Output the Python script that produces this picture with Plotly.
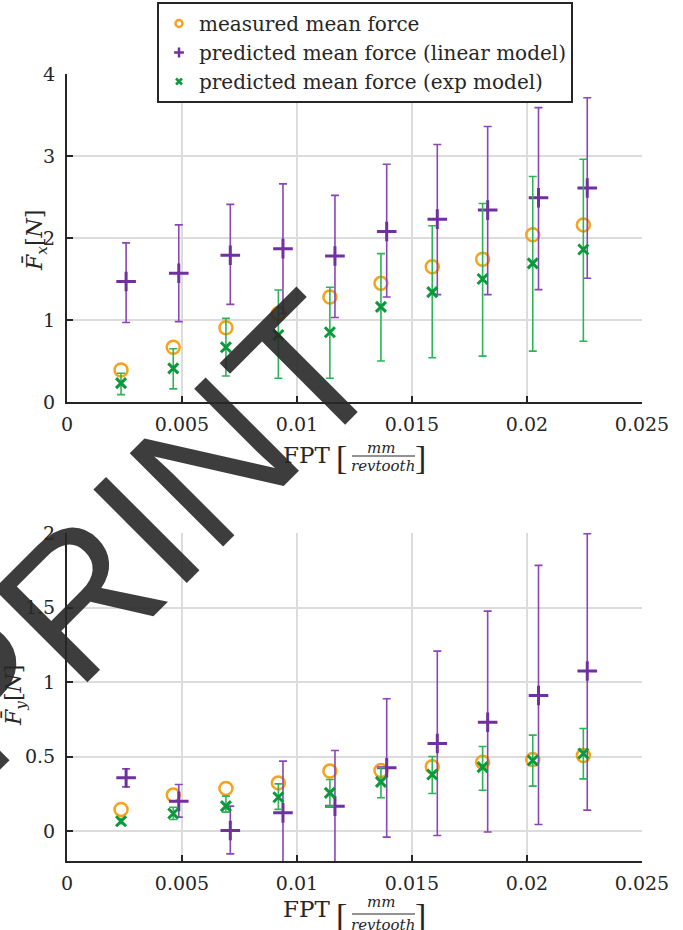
import plotly.graph_objects as go

# ---------------- data ----------------
fpt_meas = [0.00235, 0.00462, 0.00691, 0.00919, 0.01143, 0.01365, 0.01588, 0.01807, 0.02025, 0.02245]
fpt_lin = [0.00257, 0.00486, 0.00710, 0.00939, 0.01165, 0.01390, 0.01610, 0.01829, 0.02050, 0.02262]
fpt_exp = fpt_meas

Fx_meas = [0.39, 0.667, 0.906, 1.08, 1.28, 1.447, 1.65, 1.74, 2.04, 2.16]
Fx_lin = [1.47, 1.57, 1.79, 1.87, 1.78, 2.08, 2.23, 2.34, 2.49, 2.61]
Fx_lin_hi = [1.94, 2.16, 2.41, 2.66, 2.52, 2.90, 3.14, 3.36, 3.59, 3.71]
Fx_lin_lo = [0.97, 0.98, 1.19, 1.08, 1.03, 1.28, 1.31, 1.31, 1.37, 1.51]
Fx_exp = [0.23, 0.41, 0.667, 0.817, 0.85, 1.16, 1.34, 1.50, 1.69, 1.86]
Fx_exp_hi = [0.35, 0.65, 1.02, 1.366, 1.40, 1.81, 2.15, 2.42, 2.75, 2.96]
Fx_exp_lo = [0.09, 0.16, 0.317, 0.289, 0.29, 0.50, 0.54, 0.56, 0.62, 0.74]

Fy_meas = [0.146, 0.242, 0.287, 0.324, 0.403, 0.407, 0.432, 0.463, 0.481, 0.508]
Fy_lin = [0.358, 0.20, 0.005, 0.123, 0.168, 0.425, 0.588, 0.731, 0.91, 1.074]
Fy_lin_hi = [0.418, 0.313, 0.168, 0.47, 0.541, 0.888, 1.208, 1.476, 1.783, 1.995]
Fy_lin_lo = [0.297, 0.094, -0.152, -0.224, -0.205, -0.04, -0.029, -0.005, 0.045, 0.141]
Fy_exp = [0.067, 0.119, 0.168, 0.228, 0.257, 0.331, 0.38, 0.43, 0.474, 0.521]
Fy_exp_hi = [0.085, 0.161, 0.235, 0.317, 0.347, 0.425, 0.501, 0.568, 0.644, 0.689]
Fy_exp_lo = [0.05, 0.078, 0.128, 0.146, 0.168, 0.224, 0.253, 0.275, 0.302, 0.351]

x_ticks = [0, 0.005, 0.01, 0.015, 0.02, 0.025]
x_ticklabels = ["0", "0.005", "0.01", "0.015", "0.02", "0.025"]
yx_ticks = [0, 1, 2, 3, 4]
yx_ticklabels = ["0", "1", "2", "3", "4"]
yy_ticks = [0, 0.5, 1, 1.5, 2]
yy_ticklabels = ["0", "0.5", "1", "1.5", "2"]

legend_names = ["measured mean force",
                "predicted mean force (linear model)",
                "predicted mean force (exp model)"]

# ---------------- styles ----------------
ORANGE = "#F7A21B"
PURPLE = "#7030A0"
PURPLE_BAR = "#8A45B8"
GREEN = "#0A9A3C"
GREEN_BAR = "#2DB456"
SERIF = "DejaVu Serif"
AXCOL = "#262626"
GRID = "#dcdcdc"


def plus(hi, v):
    return [h - x for h, x in zip(hi, v)]


def minus(lo, v):
    return [x - l for l, x in zip(lo, v)]


fig = go.Figure()

for xa, ya, meas, lin, lhi, llo, ex, ehi, elo in [
    ("x", "y", Fx_meas, Fx_lin, Fx_lin_hi, Fx_lin_lo, Fx_exp, Fx_exp_hi, Fx_exp_lo),
    ("x2", "y2", Fy_meas, Fy_lin, Fy_lin_hi, Fy_lin_lo, Fy_exp, Fy_exp_hi, Fy_exp_lo),
]:
    fig.add_trace(go.Scatter(
        x=fpt_meas, y=meas, mode="markers", xaxis=xa, yaxis=ya, showlegend=False,
        marker=dict(symbol="circle-open", size=13, color=ORANGE, line=dict(width=2.5, color=ORANGE)),
    ))
    fig.add_trace(go.Scatter(
        x=fpt_lin, y=lin, mode="markers", xaxis=xa, yaxis=ya, showlegend=False,
        marker=dict(symbol="cross-thin-open", size=14, color=PURPLE, line=dict(width=3, color=PURPLE)),
        error_y=dict(type="data", symmetric=False, array=plus(lhi, lin), arrayminus=minus(llo, lin),
                     color=PURPLE_BAR, thickness=1.6, width=4),
    ))
    fig.add_trace(go.Scatter(
        x=fpt_exp, y=ex, mode="markers", xaxis=xa, yaxis=ya, showlegend=False,
        marker=dict(symbol="x-thin-open", size=10, color=GREEN, line=dict(width=3, color=GREEN)),
        error_y=dict(type="data", symmetric=False, array=plus(ehi, ex), arrayminus=minus(elo, ex),
                     color=GREEN_BAR, thickness=1.6, width=4),
    ))

# legend-only entries (smaller markers, as in the reference legend)
fig.add_trace(go.Scatter(x=[None], y=[None], mode="markers", name=legend_names[0],
                         marker=dict(symbol="circle-open", size=7, color=ORANGE, line=dict(width=2.5, color=ORANGE))))
fig.add_trace(go.Scatter(x=[None], y=[None], mode="markers", name=legend_names[1],
                         marker=dict(symbol="cross-thin-open", size=7, color=PURPLE, line=dict(width=2.5, color=PURPLE))))
fig.add_trace(go.Scatter(x=[None], y=[None], mode="markers", name=legend_names[2],
                         marker=dict(symbol="x-thin-open", size=6, color=GREEN, line=dict(width=2.5, color=GREEN))))

W, H = 683, 930
ML = 67
MR = W - 642
MT = 0
MB = 0
PW = W - ML - MR


# helpers converting window pixels to paper coordinates
def px_x(p):
    return (p - ML) / PW


def px_y(p):
    return 1 - p / H


axis_common = dict(
    automargin=False,
    showline=True, linecolor=AXCOL, linewidth=2,
    showgrid=True, gridcolor=GRID, gridwidth=1.5,
    zeroline=False, ticks="inside", ticklen=6, tickwidth=2, tickcolor=AXCOL,
    tickfont=dict(family=SERIF, size=19, color=AXCOL),
    mirror=False,
)

fig.update_layout(
    width=W, height=H,
    margin=dict(l=ML, r=MR, t=MT, b=MB, autoexpand=False),
    paper_bgcolor="white", plot_bgcolor="white",
    xaxis=dict(domain=[0, 1], anchor="y", range=[0, 0.025], tickvals=x_ticks, ticktext=x_ticklabels,
               ticklabelstandoff=4, **axis_common),
    yaxis=dict(domain=[px_y(402), px_y(74)], anchor="x", range=[0, 4], tickvals=yx_ticks, ticktext=yx_ticklabels,
               ticklabelstandoff=6, **axis_common),
    xaxis2=dict(domain=[0, 1], anchor="y2", range=[0, 0.025], tickvals=x_ticks, ticktext=x_ticklabels,
                ticklabelstandoff=4, **axis_common),
    yaxis2=dict(domain=[px_y(861), px_y(533)], anchor="x2", range=[-0.2, 2], tickvals=yy_ticks,
                ticktext=yy_ticklabels, ticklabelstandoff=6, **axis_common),
    legend=dict(x=px_x(157), y=px_y(2), xanchor="left", yanchor="top",
                bgcolor="white", bordercolor=AXCOL, borderwidth=2,
                font=dict(family=SERIF, size=20, color=AXCOL), tracegroupgap=0),
    showlegend=True,
)

annots = []
shapes = []

# y-axis titles
for txt, ax, ay in [("<i>F̄</i><sub><i>x</i></sub>[<i>N</i>]", 36, 241),
                    ("<i>F̄</i><sub><i>y</i></sub>[<i>N</i>]", 15, 696)]:
    annots.append(dict(text=txt, x=px_x(ax), y=px_y(ay), xref="paper", yref="paper", showarrow=False,
                       xanchor="center", yanchor="middle", textangle=-90,
                       font=dict(family=SERIF, size=22, color=AXCOL)))

# x-axis titles: FPT [mm / revtooth]
for fy, mmy, liney, revy in [(455, 448, 456, 466), (909, 902, 914, 925)]:
    annots.append(dict(text="FPT", x=px_x(306), y=px_y(fy), xref="paper", yref="paper", showarrow=False,
                       xanchor="center", yanchor="middle", font=dict(family=SERIF, size=23, color=AXCOL)))
    annots.append(dict(text="[", x=px_x(341), y=px_y(liney + 1), xref="paper", yref="paper", showarrow=False,
                       xanchor="center", yanchor="middle", font=dict(family="Liberation Serif", size=34, color=AXCOL)))
    annots.append(dict(text="]", x=px_x(420), y=px_y(liney + 1), xref="paper", yref="paper", showarrow=False,
                       xanchor="center", yanchor="middle", font=dict(family="Liberation Serif", size=34, color=AXCOL)))
    annots.append(dict(text="<i>mm</i>", x=px_x(381), y=px_y(mmy), xref="paper", yref="paper", showarrow=False,
                       xanchor="center", yanchor="middle", font=dict(family=SERIF, size=15, color=AXCOL)))
    annots.append(dict(text="<i>revtooth</i>", x=px_x(383), y=px_y(revy), xref="paper", yref="paper",
                       showarrow=False, xanchor="center", yanchor="middle",
                       font=dict(family=SERIF, size=15, color=AXCOL)))
    shapes.append(dict(type="line", xref="paper", yref="paper", x0=px_x(352), x1=px_x(415),
                       y0=px_y(liney), y1=px_y(liney), line=dict(color=AXCOL, width=1)))

# watermark
annots.append(dict(text="PRINT", x=px_x(142), y=px_y(533), xref="paper", yref="paper", showarrow=False,
                   xanchor="center", yanchor="middle", textangle=-45,
                   font=dict(family="Liberation Sans", size=192, color="rgba(40,40,40,0.9)")))

fig.update_layout(annotations=annots, shapes=shapes)

fig.write_html("out.html", config={"displayModeBar": False},
               post_script="document.body.style.margin='0px';")
